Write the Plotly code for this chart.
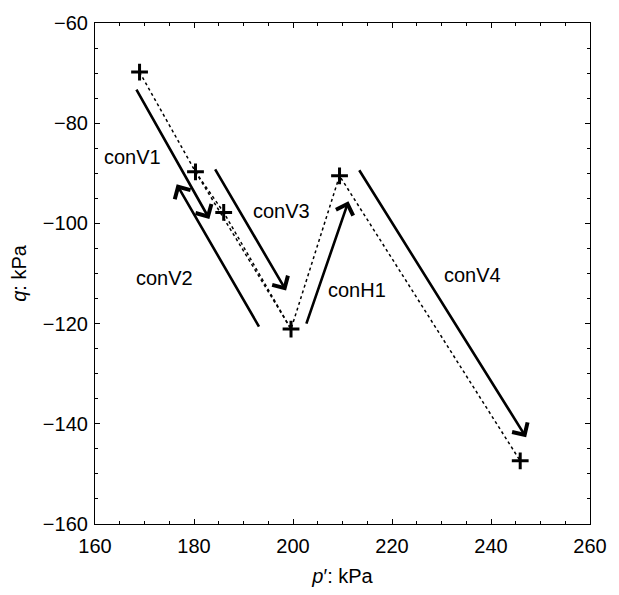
import plotly.graph_objects as go

# Stress-path states (p', q) in kPa
p_states = [169.0, 180.3, 186.0, 199.6, 209.4, 245.9]
q_states = [-69.8, -89.7, -97.8, -121.1, -90.5, -147.4]

# Dotted path through the states, plus the extra leg from state 2 to state 4
path_order = [0, 1, 2, 3, 4, 5]
extra_leg = [1, 3]

# Loading-stage arrows: tail (p, q) -> head (p, q)
stage_names = ["conV1", "conV2", "conV3", "conH1", "conV4"]
tail_p = [168.2, 193.3, 184.1, 202.6, 213.2]
tail_q = [-73.0, -120.9, -88.9, -120.3, -89.1]
head_p = [183.1, 176.5, 198.6, 211.2, 247.1]
head_q = [-99.1, -92.2, -113.4, -95.6, -142.7]

# Stage label anchor points
label_p = [167.6, 174.1, 197.6, 213.0, 236.3]
label_q = [-86.7, -110.9, -97.5, -113.2, -110.3]

x_ticks = [160, 180, 200, 220, 240, 260]
y_ticks = [-60, -80, -100, -120, -140, -160]

FONT = "Liberation Sans, Arial, sans-serif"
FS = 20

fig = go.Figure()

fig.add_trace(go.Scatter(
    x=[p_states[i] for i in path_order],
    y=[q_states[i] for i in path_order],
    mode="lines",
    line=dict(color="black", width=1.5, dash="dot"),
    hoverinfo="skip",
    showlegend=False,
))
fig.add_trace(go.Scatter(
    x=[p_states[i] for i in extra_leg],
    y=[q_states[i] for i in extra_leg],
    mode="lines",
    line=dict(color="black", width=1.5, dash="dot"),
    hoverinfo="skip",
    showlegend=False,
))
fig.add_trace(go.Scatter(
    x=p_states,
    y=q_states,
    mode="markers",
    marker=dict(symbol="cross-thin", size=12, color="black",
                line=dict(color="black", width=3)),
    showlegend=False,
))

annotations = []
for tp, tq, hp, hq in zip(tail_p, tail_q, head_p, head_q):
    annotations.append(dict(
        x=hp, y=hq, ax=tp, ay=tq,
        xref="x", yref="y", axref="x", ayref="y",
        text="", showarrow=True,
        arrowhead=4, arrowsize=1.35, arrowwidth=2.6, arrowcolor="black",
        standoff=0, startstandoff=0,
    ))
for name, lp, lq in zip(stage_names, label_p, label_q):
    annotations.append(dict(
        x=lp, y=lq, xref="x", yref="y", text=name, showarrow=False,
        font=dict(family=FONT, size=FS, color="black"),
    ))

axis_common = dict(
    showgrid=False, zeroline=False,
    showline=True, linecolor="black", linewidth=1.2, mirror="ticks",
    ticks="inside", ticklen=5, tickwidth=1, tickcolor="black",
    tickfont=dict(family=FONT, size=FS, color="black"),
    minor=dict(ticks="inside", ticklen=3, tickwidth=1, tickcolor="black", dtick=5),
)

fig.update_layout(
    width=619, height=595,
    margin=dict(l=95, r=26, t=16, b=70),
    paper_bgcolor="white", plot_bgcolor="white",
    annotations=annotations,
    xaxis=dict(
        range=[160, 260], tickvals=x_ticks, ticklabelstandoff=4,
        title=dict(text="<i>p</i>′: kPa", font=dict(family=FONT, size=FS, color="black"),
                   standoff=12),
        **axis_common,
    ),
    yaxis=dict(
        range=[-160, -60], tickvals=y_ticks, ticklabelstandoff=2,
        title=dict(text="<i>q</i>: kPa", font=dict(family=FONT, size=FS, color="black"),
                   standoff=10),
        **axis_common,
    ),
)

fig.write_html("out.html")
